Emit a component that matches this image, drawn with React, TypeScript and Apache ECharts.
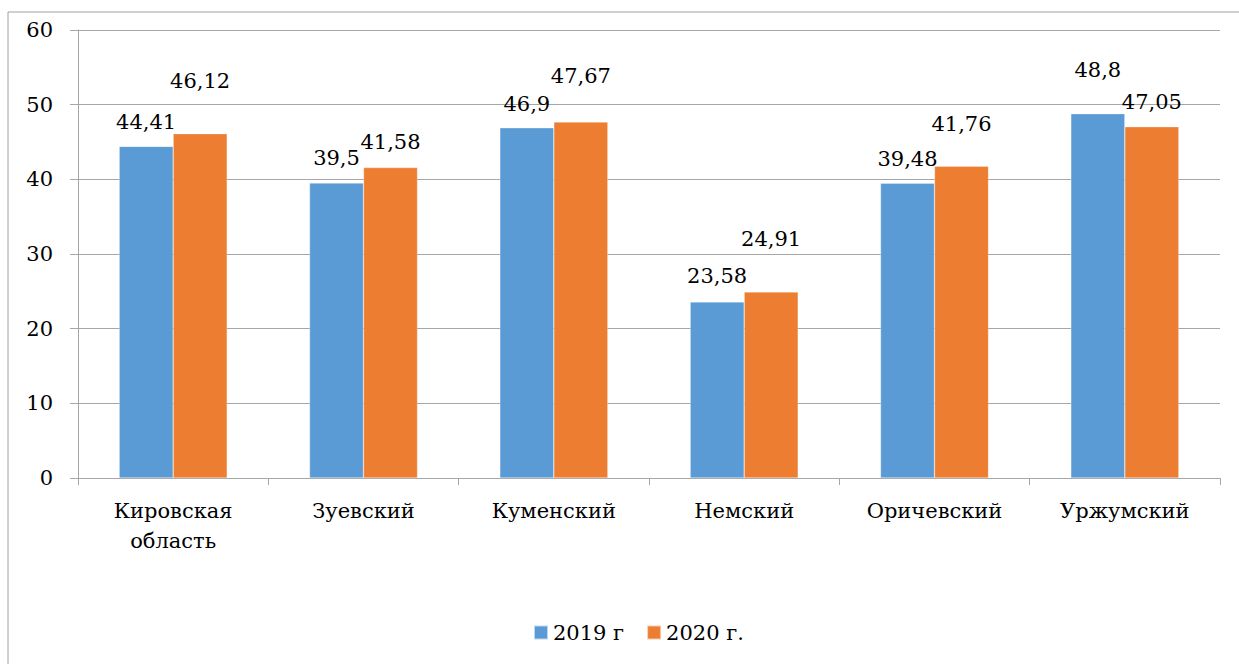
import React, { useEffect, useRef } from "react";
import * as echarts from "echarts";

const categories = ["Кировская\nобласть", "Зуевский", "Куменский", "Немский", "Оричевский", "Уржумский"];
const seriesNames = ["2019 г", "2020 г."];
const values2019 = [44.41, 39.5, 46.9, 23.58, 39.48, 48.8];
const values2020 = [46.12, 41.58, 47.67, 24.91, 41.76, 47.05];
const yTicks = { min: 0, max: 60, interval: 10 };

// label layout offsets (px), styling only
const labelDy2019 = [-9, -10, -8, -10, -9, -28];
const labelDy2020 = [-37, -10, -31, -38, -27, -9];

const FONT = "DejaVu Serif";
const FS = 21;
const fmt = (v: number) => String(v).replace(".", ",");

export default function App() {
  const ref = useRef<HTMLDivElement>(null);
  useEffect(() => {
    if (!ref.current) return;
    const chart = echarts.init(ref.current, undefined, { renderer: "svg" });
    const mk = (name: string, vals: number[], dys: number[], color: string) => ({
      name,
      type: "bar",
      barWidth: 54,
      barGap: "0%",
      itemStyle: { color, borderColor: "rgba(255,255,255,0.6)", borderWidth: 0.5 },
      data: vals.map((v, i) => ({
        value: v,
        label: { offset: [0, dys[i]] },
      })),
      label: {
        show: true,
        position: "top",
        distance: 5,
        color: "#000",
        fontFamily: FONT,
        fontSize: FS,
        formatter: (p: any) => fmt(p.value),
      },
    });
    chart.setOption({
      animation: false,
      backgroundColor: "#fff",
      textStyle: { fontFamily: FONT },
      graphic: [
        {
          type: "rect",
          shape: { x: 8, y: 12, width: 1300, height: 700 },
          style: { fill: "none", stroke: "#a0a0a0", lineWidth: 1 },
          silent: true,
          z: -1,
        },
      ],
      grid: { left: 78, top: 30, right: 19, bottom: 186, containLabel: false },
      legend: {
        show: true,
        bottom: 16,
        left: 528,
        itemWidth: 14,
        itemHeight: 14,
        itemGap: 22,
        icon: "rect",
        textStyle: { fontFamily: FONT, fontSize: FS, color: "#000" },
        data: seriesNames,
      },
      xAxis: {
        type: "category",
        data: categories,
        axisLine: { lineStyle: { color: "#a6a6a6", width: 1 } },
        axisTick: { show: true, length: 7, lineStyle: { color: "#a6a6a6" } },
        axisLabel: {
          color: "#000",
          fontFamily: FONT,
          fontSize: FS,
          lineHeight: 30,
          margin: 18,
          interval: 0,
        },
      },
      yAxis: {
        type: "value",
        min: yTicks.min,
        max: yTicks.max,
        interval: yTicks.interval,
        axisLine: { show: true, lineStyle: { color: "#a6a6a6", width: 1 } },
        axisTick: { show: true, length: 8, lineStyle: { color: "#a6a6a6" } },
        splitLine: { lineStyle: { color: "#a6a6a6", width: 1 } },
        axisLabel: { color: "#000", fontFamily: FONT, fontSize: FS, margin: 25 },
      },
      series: [
        mk(seriesNames[0], values2019, labelDy2019, "#5B9BD5"),
        mk(seriesNames[1], values2020, labelDy2020, "#ED7D31"),
      ],
    });
    return () => chart.dispose();
  }, []);
  return (
    <div
      ref={ref}
      style={{ position: "absolute", left: 0, top: 0, width: 1239, height: 664 }}
    />
  );
}
